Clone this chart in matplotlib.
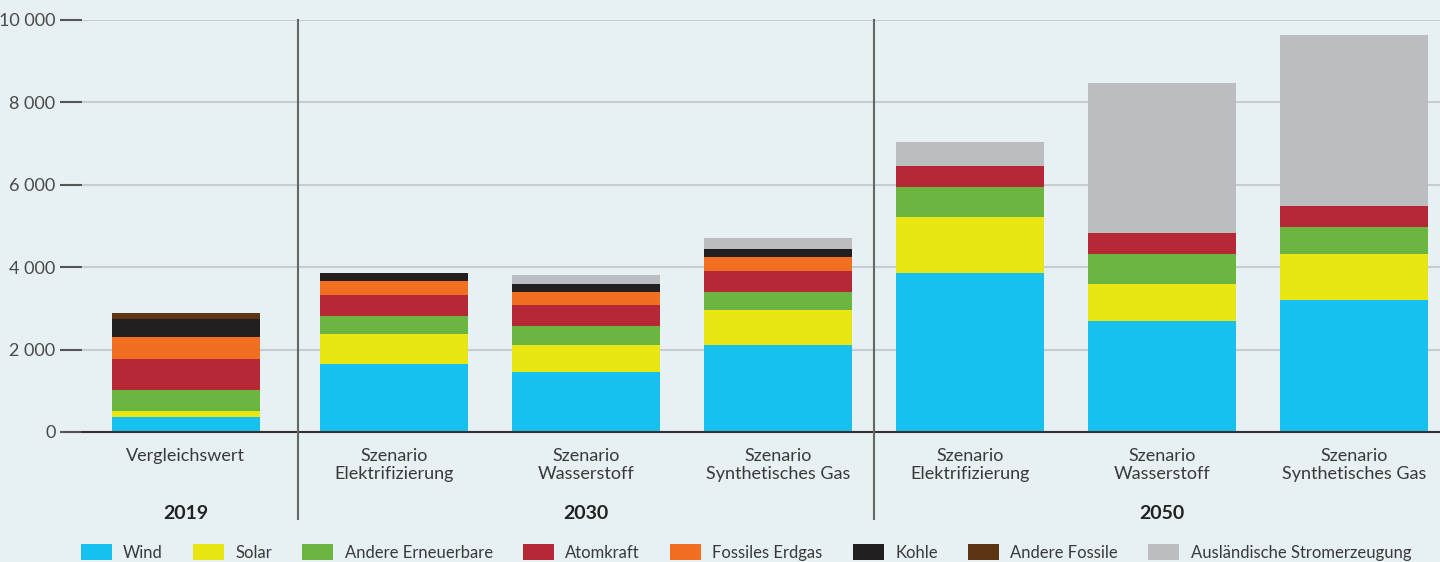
import numpy as np
import matplotlib.pyplot as plt
import matplotlib.transforms as mtransforms
from matplotlib.patches import Patch

plt.rcParams['font.family'] = ['Lato', 'DejaVu Sans']

# Bar labels (bottom axis), year groups
categories = ["Vergleichswert",
              "Szenario\nElektrifizierung", "Szenario\nWasserstoff", "Szenario\nSynthetisches Gas",
              "Szenario\nElektrifizierung", "Szenario\nWasserstoff", "Szenario\nSynthetisches Gas"]
years = ["2019", "2030", "2050"]
year_members = [[0], [1, 2, 3], [4, 5, 6]]

# Stacked series, bottom to top
series = ["Wind", "Solar", "Andere Erneuerbare", "Atomkraft", "Fossiles Erdgas",
          "Kohle", "Andere Fossile", "Ausländische Stromerzeugung"]
wind = [360, 1650, 1460, 2110, 3860, 2700, 3210]
solar = [140, 720, 650, 840, 1360, 900, 1100]
andere_ee = [520, 450, 460, 460, 720, 710, 655]
atomkraft = [760, 510, 510, 500, 510, 520, 510]
erdgas = [530, 330, 330, 335, 0, 0, 0]
kohle = [440, 195, 180, 195, 0, 0, 0]
andere_fossile = [150, 0, 0, 0, 0, 0, 0]
ausland = [0, 0, 210, 265, 590, 3640, 4160]

colors = ["#16c1f0", "#e8e713", "#6cb540", "#b72837", "#f26f22",
          "#231f20", "#5e3512", "#bbbdc0"]
bg = "#e7f0f2"

values = [wind, solar, andere_ee, atomkraft, erdgas, kohle, andere_fossile, ausland]

# x positions: first group is set a bit apart
xpos = np.arange(len(categories), dtype=float)
xpos[1:] += 0.083

fig = plt.figure(figsize=(14.4, 5.62), dpi=100)
fig.patch.set_facecolor(bg)
ax = fig.add_axes([82 / 1440, 130 / 562, 1 - 82 / 1440, 412 / 562])
ax.set_facecolor(bg)

bottom = np.zeros(len(categories))
for name, vals, col in zip(series, values, colors):
  vals = np.array(vals, dtype=float)
  ax.bar(xpos, vals, width=0.77, bottom=bottom, color=col, edgecolor='none', zorder=3)
  bottom += vals

ax.set_xlim(-0.54, 6.53)
ax.set_ylim(0, 10000)
ax.set_yticks(np.arange(0, 10001, 2000))
ax.set_yticklabels([("%d" % v) if v < 1000 else ("%d %03d" % (v // 1000, v % 1000))
                    for v in range(0, 10001, 2000)])
ax.yaxis.grid(True, color='#c6cdd0', lw=1.5, zorder=0)
ax.set_axisbelow(True)
ax.tick_params(axis='y', length=16, width=1.5, color='#555555', pad=3,
               labelsize=13, labelcolor='#4a4a4a')
ax.tick_params(axis='x', length=0, labelbottom=False)
for s in ['top', 'right', 'left']:
  ax.spines[s].set_visible(False)
ax.spines['bottom'].set_color('#333333')
ax.spines['bottom'].set_linewidth(1.5)
ax.spines['bottom'].set_zorder(4)

trans = mtransforms.blended_transform_factory(ax.transData, ax.transAxes)

# Group separators, half a slot left of each group's first bar
for mem in year_members[1:]:
  xs = xpos[mem[0]] - 0.5
  ax.plot([xs, xs], [-0.211, 1.0], color='#666666', lw=1.5, transform=trans,
          clip_on=False, zorder=5)

# Category labels
for x, lab in zip(xpos, categories):
  ax.text(x, -0.038, lab, ha='center', va='top', transform=trans, fontsize=13,
          color='#3a3a3a', linespacing=1.2)

# Year labels
for yr, mem in zip(years, year_members):
  xc = np.mean(xpos[mem])
  ax.text(xc, -0.197, yr, ha='center', va='center', transform=trans, fontsize=14,
          fontweight='bold', color='#222222')

handles = [Patch(facecolor=c, edgecolor='none', label=n) for n, c in zip(series, colors)]
fig.legend(handles=handles, ncol=8, loc='center', bbox_to_anchor=(0.518, 0.017),
           frameon=False, fontsize=12, handlelength=1.85, handleheight=1.1,
           handletextpad=0.7, columnspacing=1.8, labelcolor='#3a3a3a')

fig.savefig("out.png", dpi=100, facecolor=bg)
